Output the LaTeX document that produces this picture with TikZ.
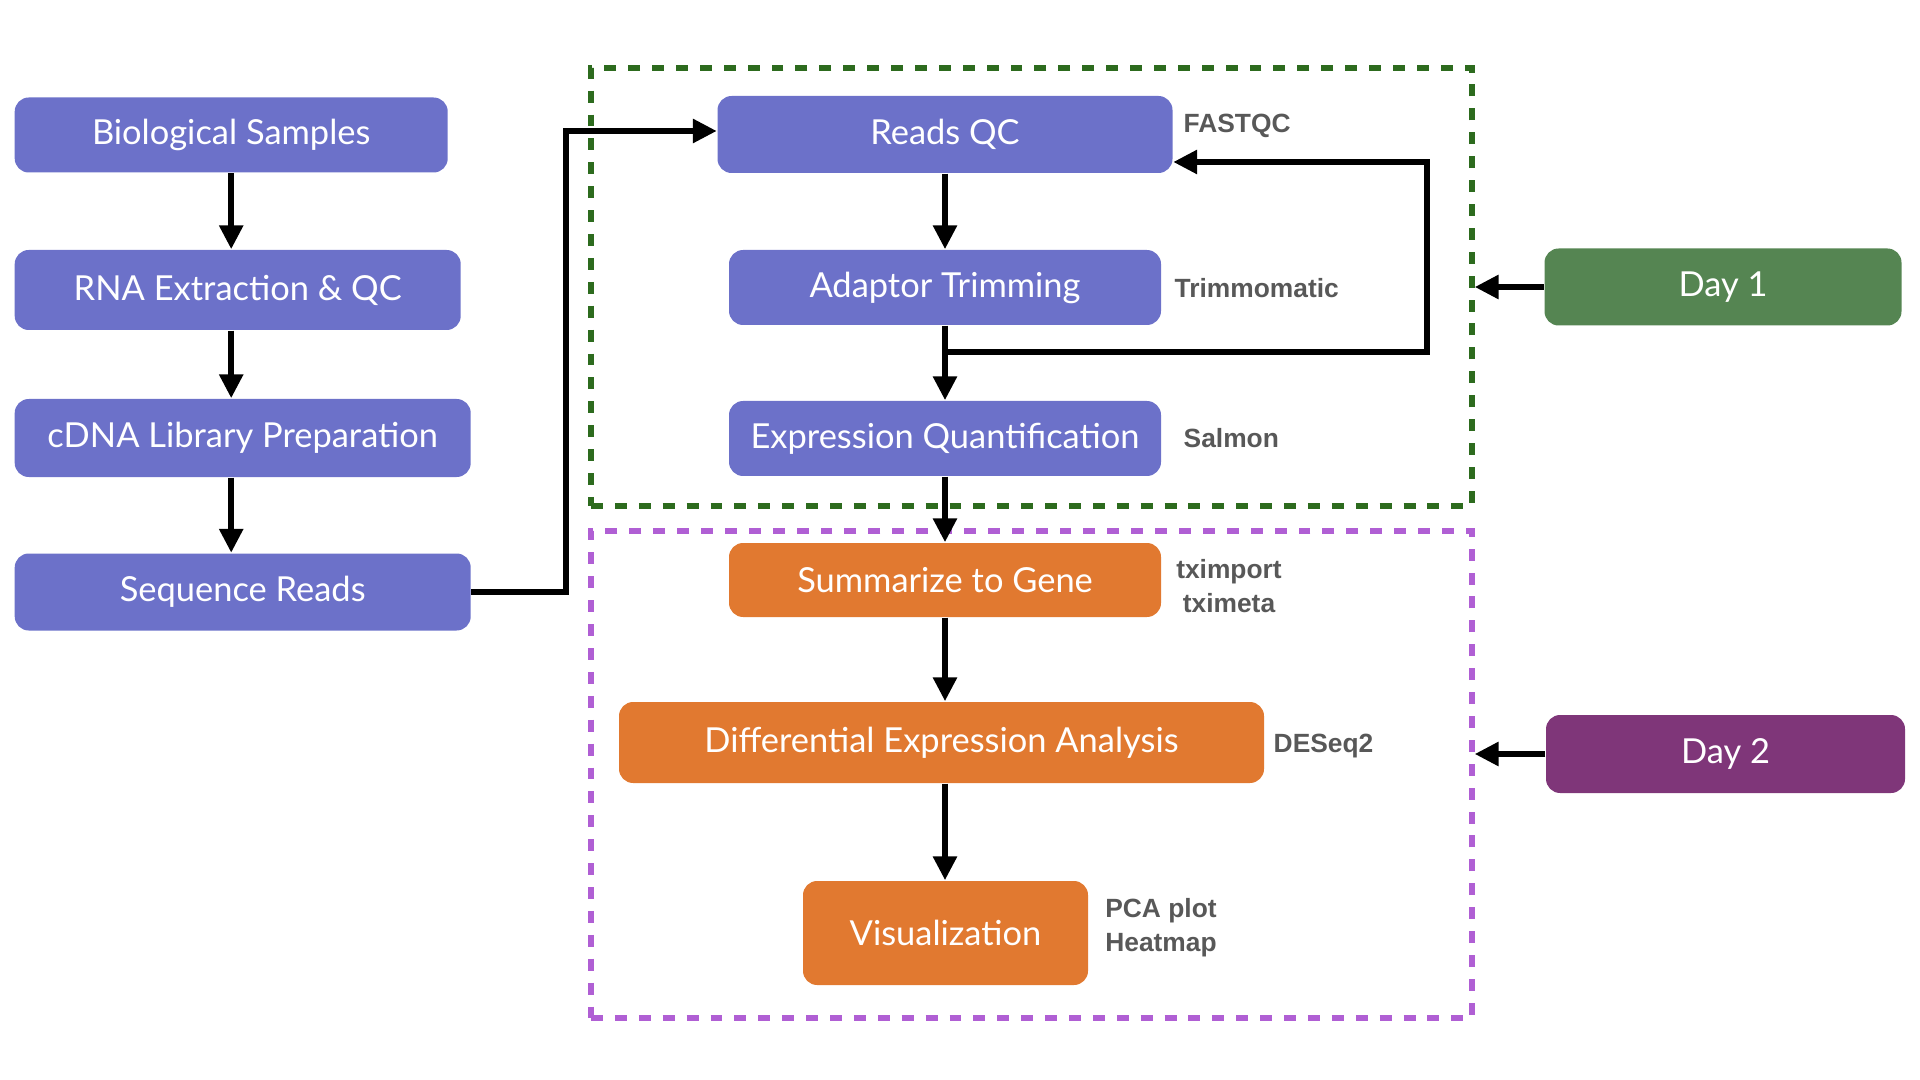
\documentclass[tikz,border=0pt]{standalone}
\usepackage{fontspec}
\setmainfont{Lato}
\newfontfamily\tagfont{Liberation Sans}
\usetikzlibrary{arrows.meta, positioning}

\definecolor{stepblue}{RGB}{108,113,201}
\definecolor{steporange}{RGB}{225,121,48}
\definecolor{dayone}{RGB}{85,133,82}
\definecolor{daytwo}{RGB}{127,54,121}
\definecolor{dashgreen}{RGB}{45,107,30}
\definecolor{dashpurple}{RGB}{176,95,212}
\definecolor{toolgray}{RGB}{88,88,88}

\begin{document}
\begin{tikzpicture}[
    block/.style={rectangle, fill=stepblue, text=white, rounded corners=4pt, minimum height=0.77cm, inner sep=0pt, font=\fontsize{9.8}{11}\selectfont},
    later/.style={block, fill=steporange},
    day/.style={block, minimum width=3.57cm, minimum height=0.77cm},
    tool/.style={text=toolgray, font=\tagfont\bfseries\fontsize{7.5}{9.7}\selectfont, align=center, inner sep=0pt},
    frame/.style={rectangle, line width=1.5pt, dash pattern=on 3.4pt off 3.4pt, inner sep=0pt},
    arrow/.style={line width=1.7pt, -{Triangle[length=6.8pt, width=6.5pt]}}
]
\useasboundingbox (0,0) rectangle (19.2,-10.8);

% day frames
\node (dayonebox) [frame, draw=dashgreen, minimum width=8.81cm, minimum height=4.38cm] at (10.315,-2.87) {};
\node (daytwobox) [frame, draw=dashpurple, minimum width=8.81cm, minimum height=4.87cm] at (10.315,-7.745) {};

% wet lab
\node (bio) [block, anchor=west, minimum width=4.33cm, minimum height=0.75cm] at (0.14,-1.35) {Biological Samples};
\node (rna) [block, anchor=west, minimum width=4.46cm, minimum height=0.8cm] at (0.14,-2.9) {RNA Extraction \& QC};
\node (cdna) [block, anchor=west, minimum width=4.56cm, minimum height=0.78cm] at (0.14,-4.38) {cDNA Library Preparation};
\node (seq) [block, anchor=west, minimum width=4.56cm] at (0.14,-5.92) {Sequence Reads};

% analysis
\node (qc) [block, minimum width=4.55cm] at (9.45,-1.345) {Reads QC};
\node (trim) [block, minimum width=4.32cm, minimum height=0.75cm] at (9.45,-2.875) {Adaptor Trimming};
\node (quant) [block, minimum width=4.32cm, minimum height=0.75cm] at (9.45,-4.385) {Expression Quantification};
\node (gene) [later, minimum width=4.32cm, minimum height=0.74cm] at (9.45,-5.80) {Summarize to Gene};
\node (dea) [later, minimum width=6.45cm, minimum height=0.81cm] at (9.415,-7.425) {Differential Expression Analysis};
\node (vis) [later, minimum width=2.85cm, minimum height=1.04cm] at (9.455,-9.33) {Visualization};

\node (day1) [day, fill=dayone] at (17.23,-2.87) {Day 1};
\node (day2) [day, fill=daytwo, minimum width=3.59cm, minimum height=0.78cm] at (17.255,-7.54) {Day 2};

\node (fastqc) [tool, anchor=west] at (11.83,-1.26) {FASTQC};
\node (trimmo) [tool, anchor=west] at (11.74,-2.88) {Trimmomatic};
\node (salmon) [tool, anchor=west] at (11.83,-4.38) {Salmon};
\node (txi) [tool] at (12.29,-5.86) {tximport\\tximeta};
\node (deseq) [tool, anchor=west] at (12.73,-7.46) {DESeq2};
\node (pca) [tool] at (11.61,-9.28) {PCA plot\\Heatmap};

\coordinate (jog) at (5.66,-1.31);
\coordinate (loop) at (14.27,-3.52);

\draw [arrow] (bio.south) -- (bio.south |- rna.north);
\draw [arrow] (bio.south |- rna.south) -- (bio.south |- cdna.north);
\draw [arrow] (bio.south |- cdna.south) -- (bio.south |- seq.north);
\draw [arrow] (seq.east) -| (jog) -- (jog -| qc.west);

\draw [arrow] (qc) -- (trim);
\draw [arrow] (trim) -- (quant);
\draw [arrow] (trim.south |- loop) -- (loop) |- ([yshift=-0.275cm]qc.east);
\draw [arrow] (quant) -- (gene);
\draw [arrow] (gene) -- (gene |- dea.north);
\draw [arrow] (gene |- dea.south) -- (gene |- vis.north);

\draw [arrow] (day1) -- (day1 -| dayonebox.east);
\draw [arrow] (day2) -- (day2 -| daytwobox.east);
\end{tikzpicture}
\end{document}
